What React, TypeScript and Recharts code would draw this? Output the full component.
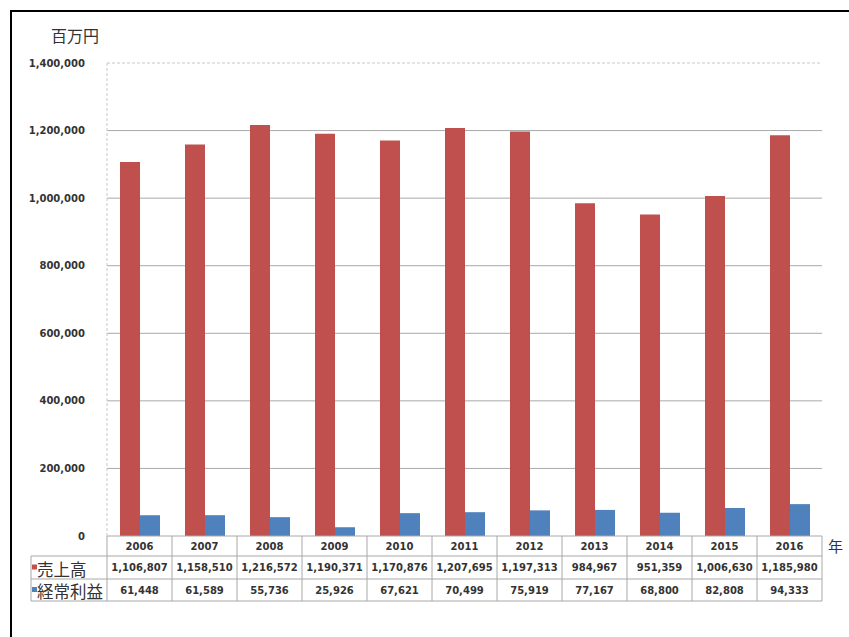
import React from 'react';
import {
  BarChart,
  Bar,
  XAxis,
  YAxis,
  CartesianGrid,
} from 'recharts';

const years: string[] = ['2006', '2007', '2008', '2009', '2010', '2011', '2012', '2013', '2014', '2015', '2016'];
const sales: number[] = [1106807, 1158510, 1216572, 1190371, 1170876, 1207695, 1197313, 984967, 951359, 1006630, 1185980];
const profit: number[] = [61448, 61589, 55736, 25926, 67621, 70499, 75919, 77167, 68800, 82808, 94333];
const yTicks: number[] = [0, 200000, 400000, 600000, 800000, 1000000, 1200000, 1400000];
const seriesNames: string[] = ['売上高', '経常利益'];

const data = years.map((y, i) => ({ year: y, sales: sales[i], profit: profit[i] }));

const RED = '#C0504D';
const BLUE = '#4F81BD';
const LINE = '#a8a8a8';
const NUM_FONT = '"DejaVu Sans", sans-serif';
const JP_FONT = '"Noto Sans CJK JP", sans-serif';

// plot geometry (page coords)
const PLOT_LEFT = 107;
const PLOT_RIGHT = 822;
const PLOT_TOP = 63;
const PLOT_BOTTOM = 536;
const CELL_W = (PLOT_RIGHT - PLOT_LEFT) / years.length;
const ROW1 = 556;
const ROW2 = 579;
const ROW3 = 601;
const LABEL_LEFT = 31;

const fmt = (v: number) => v.toLocaleString('en-US');

// x axis ticks drawn as the data table under the chart
const TableTick = (props: any) => {
  const { x, payload } = props;
  const i: number = payload.index;
  const l = x - CELL_W / 2;
  const r = x + CELL_W / 2;
  const txt = {
    fontFamily: NUM_FONT,
    fontWeight: 700,
    fontSize: 10,
    fill: '#333',
    textAnchor: 'middle' as const,
    dominantBaseline: 'central' as const,
  };
  return (
    <g>
      <line x1={r} y1={PLOT_BOTTOM} x2={r} y2={ROW3} stroke={LINE} />
      {i === 0 && <line x1={l} y1={PLOT_BOTTOM} x2={l} y2={ROW3} stroke={LINE} />}
      <line x1={l} y1={ROW1} x2={r} y2={ROW1} stroke={LINE} />
      <line x1={l} y1={ROW2} x2={r} y2={ROW2} stroke={LINE} />
      <line x1={l} y1={ROW3} x2={r} y2={ROW3} stroke={LINE} />
      <text x={x} y={(PLOT_BOTTOM + ROW1) / 2} {...txt}>{payload.value}</text>
      <text x={x} y={(ROW1 + ROW2) / 2} {...txt}>{fmt(sales[i])}</text>
      <text x={x} y={(ROW2 + ROW3) / 2} {...txt}>{fmt(profit[i])}</text>
      {i === 0 && (
        <g>
          <line x1={LABEL_LEFT} y1={ROW1} x2={l} y2={ROW1} stroke={LINE} />
          <line x1={LABEL_LEFT} y1={ROW2} x2={l} y2={ROW2} stroke={LINE} />
          <line x1={LABEL_LEFT} y1={ROW3} x2={l} y2={ROW3} stroke={LINE} />
          <line x1={LABEL_LEFT} y1={ROW1} x2={LABEL_LEFT} y2={ROW3} stroke={LINE} />
          <rect x={32} y={(ROW1 + ROW2) / 2 - 3} width={5} height={5} fill={RED} />
          <rect x={32} y={(ROW2 + ROW3) / 2 - 3} width={5} height={5} fill={BLUE} />
          <text x={37} y={(ROW1 + ROW2) / 2 + 1} fontFamily={JP_FONT} fontSize={16.5} fill="#333" dominantBaseline="central">
            {seriesNames[0]}
          </text>
          <text x={37} y={(ROW2 + ROW3) / 2 + 1} fontFamily={JP_FONT} fontSize={16.5} fill="#333" dominantBaseline="central">
            {seriesNames[1]}
          </text>
        </g>
      )}
    </g>
  );
};

const App: React.FC = () => {
  return (
    <div style={{ position: 'absolute', left: 0, top: 0, width: 849, height: 637, overflow: 'hidden', background: '#fff' }}>
      <div
        style={{
          position: 'absolute',
          left: 10,
          top: 10,
          width: 1000,
          height: 1000,
          border: '2px solid #000',
        }}
      />
      <div style={{ position: 'absolute', left: 0, top: 0 }}>
        <BarChart
          width={849}
          height={637}
          data={data}
          margin={{ top: PLOT_TOP, right: 849 - PLOT_RIGHT, bottom: 637 - ROW3, left: PLOT_LEFT - 80 }}
          barCategoryGap="20%"
          barGap={0}
        >
          <CartesianGrid vertical={false} stroke={LINE} horizontalValues={[200000, 400000, 600000, 800000, 1000000, 1200000]} />
          <CartesianGrid vertical={false} stroke="#c8c8c8" strokeDasharray="3 2" horizontalValues={[1400000]} />
          <XAxis
            dataKey="year"
            interval={0}
            height={ROW3 - PLOT_BOTTOM}
            tickLine={false}
            axisLine={{ stroke: LINE }}
            tick={<TableTick />}
          />
          <YAxis
            width={80}
            domain={[0, 1400000]}
            ticks={yTicks}
            tickFormatter={fmt}
            tickLine={false}
            tickMargin={16}
            axisLine={{ stroke: '#c8c8c8', strokeDasharray: '3 2' }}
            tick={{ fontFamily: NUM_FONT, fontWeight: 700, fontSize: 10, fill: '#333' }}
          />
          <Bar dataKey="sales" name={seriesNames[0]} fill={RED} isAnimationActive={false} />
          <Bar dataKey="profit" name={seriesNames[1]} fill={BLUE} isAnimationActive={false} />
        </BarChart>
      </div>
      <div style={{ position: 'absolute', left: 51, top: 25, fontFamily: JP_FONT, fontSize: 16, color: '#333', lineHeight: '20px' }}>
        百万円
      </div>
      <div style={{ position: 'absolute', left: 828, top: 536, fontFamily: JP_FONT, fontSize: 15, color: '#333', lineHeight: '20px' }}>
        年
      </div>
    </div>
  );
};

export default App;
